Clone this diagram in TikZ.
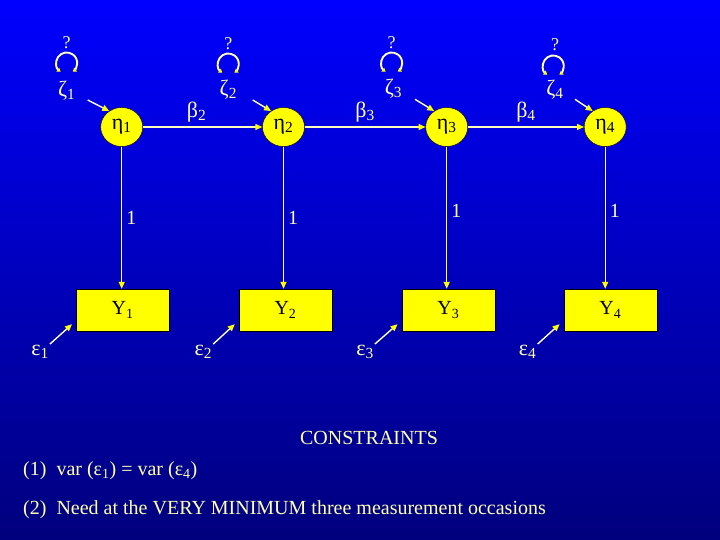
\documentclass[tikz,border=0pt]{standalone}
\usepackage{fontspec}
\setmainfont{Liberation Serif}
\usepackage{tikz}
\usetikzlibrary{positioning}
\usetikzlibrary{arrows.meta}
\usetikzlibrary{shapes.geometric}

\definecolor{bgtop}{RGB}{0,0,255}
\definecolor{bgmid}{RGB}{0,0,218}
\definecolor{bgbot}{RGB}{0,0,125}
\definecolor{linecol}{RGB}{255,255,190}
\definecolor{labcol}{RGB}{255,255,175}
\definecolor{boxcol}{RGB}{255,255,0}

\begin{document}
\begin{tikzpicture}[
          x=1pt, y=-1pt, % pixel coordinates
          every node/.style={font=\fontsize{20}{23}\selectfont, text=labcol, inner sep=1pt},
          latent/.style={ellipse, draw=black, fill=boxcol, text=black,
                         minimum width=42pt, minimum height=39pt, inner sep=0pt},
          observed/.style={rectangle, draw=black, fill=boxcol, text=black,
                         minimum width=93pt, minimum height=42pt},
          arr/.style={draw=linecol, line width=1.4pt,
                      -{Triangle[length=7pt,width=6pt,color=boxcol]}},
          loop/.style={draw=linecol, line width=1.9pt,
                      {Triangle[length=3.5pt,width=4.5pt,color=boxcol]}-{Triangle[length=3.5pt,width=4.5pt,color=boxcol]}},
          small/.style={font=\fontsize{18}{21}\selectfont},
          greek/.style={font=\fontsize{22}{25}\selectfont}
      ]
        % background
        \shade[top color=bgtop, middle color=bgmid, bottom color=bgbot] (0,0) rectangle (720,540);

        % latent variables
        \node[latent, greek] (eta1) at (121.7,127) {η\textsubscript{1}};
        \node[latent, greek] (eta2) at (283.5,127) {η\textsubscript{2}};
        \node[latent, greek] (eta3) at (446.7,127) {η\textsubscript{3}};
        \node[latent, greek] (eta4) at (605.2,127) {η\textsubscript{4}};

        % observed variables
        \node[observed] (y1) at (122.7,310) {Y\textsubscript{1}};
        \node[observed] (y2) at (285.5,310) {Y\textsubscript{2}};
        \node[observed] (y3) at (448.3,310) {Y\textsubscript{3}};
        \node[observed] (y4) at (610.3,310) {Y\textsubscript{4}};

        % autoregressive paths
        \draw[arr] (eta1) -- (eta2) node[greek, pos=0.45, above=3pt] {β\textsubscript{2}};
        \draw[arr] (eta2) -- (eta3) node[greek, pos=0.5, above=3pt] {β\textsubscript{3}};
        \draw[arr] (eta3) -- (eta4) node[greek, pos=0.5, above=3pt] {β\textsubscript{4}};

        % loadings
        \draw[arr] (eta1) -- (eta1 |- y1.north) node[pos=0.5, right=3pt] {1};
        \draw[arr] (eta2) -- (eta2 |- y2.north) node[pos=0.5, right=3pt] {1};
        \draw[arr] (eta3) -- (eta3 |- y3.north) node[pos=0.45, right=3pt] {1};
        \draw[arr] (eta4) -- (eta4 |- y4.north) node[pos=0.45, right=3pt] {1};

        % disturbances
        \node[greek] (z1) at (66.7,91) {ζ\textsubscript{1}};
        \node[greek] (z2) at (228.3,90) {ζ\textsubscript{2}};
        \node[greek] (z3) at (393.5,88.5) {ζ\textsubscript{3}};
        \node[greek] (z4) at (555,90) {ζ\textsubscript{4}};
        \coordinate (z1e) at (87.7,100);
        \coordinate (z2e) at (252.7,100);
        \coordinate (z3e) at (415,99.3);
        \coordinate (z4e) at (575,99.3);
        \draw[arr] (z1e) -- (eta1.128);
        \draw[arr] (z2e) -- (eta2.128);
        \draw[arr] (z3e) -- (eta3.128);
        \draw[arr] (z4e) -- (eta4.128);

        % variances of disturbances
        \node[small] (q1) at (66.7,43) {?};
        \node[small] (q2) at (228.3,44) {?};
        \node[small] (q3) at (391.7,43) {?};
        \node[small] (q4) at (555,45) {?};
        \coordinate (l1) at (66.7,63);
        \coordinate (l2) at (228.3,64);
        \coordinate (l3) at (391.7,63);
        \coordinate (l4) at (553.3,66);
        \draw[loop] ([shift={(235:10.5pt)}]l1) arc[start angle=235, end angle=-55, radius=10.5pt];
        \draw[loop] ([shift={(235:10.5pt)}]l2) arc[start angle=235, end angle=-55, radius=10.5pt];
        \draw[loop] ([shift={(235:10.5pt)}]l3) arc[start angle=235, end angle=-55, radius=10.5pt];
        \draw[loop] ([shift={(235:10.5pt)}]l4) arc[start angle=235, end angle=-55, radius=10.5pt];

        % measurement errors
        \node[greek] (e1) at (40,352) {ε\textsubscript{1}};
        \node[greek] (e2) at (203.3,352) {ε\textsubscript{2}};
        \node[greek] (e3) at (365,352) {ε\textsubscript{3}};
        \node[greek] (e4) at (527.7,352) {ε\textsubscript{4}};
        \draw[arr] (e1.north east) -- ([shift={(-4,-7)}]y1.south west);
        \draw[arr] (e2.north east) -- ([shift={(-4,-7)}]y2.south west);
        \draw[arr] (e3.north east) -- ([shift={(-4,-7)}]y3.south west);
        \draw[arr] (e4.north east) -- ([shift={(-4,-7)}]y4.south west);

        % constraints
        \node (cons) at (369,438) {CONSTRAINTS};
        \node[anchor=west] (c1) at (22,471) {(1)\ \ var (ε\textsubscript{1}) = var (ε\textsubscript{4})};
        \node[anchor=west] (c2) at (22,510) {(2)\ \ Need at the VERY MINIMUM three measurement occasions};
      \end{tikzpicture}
\end{document}
